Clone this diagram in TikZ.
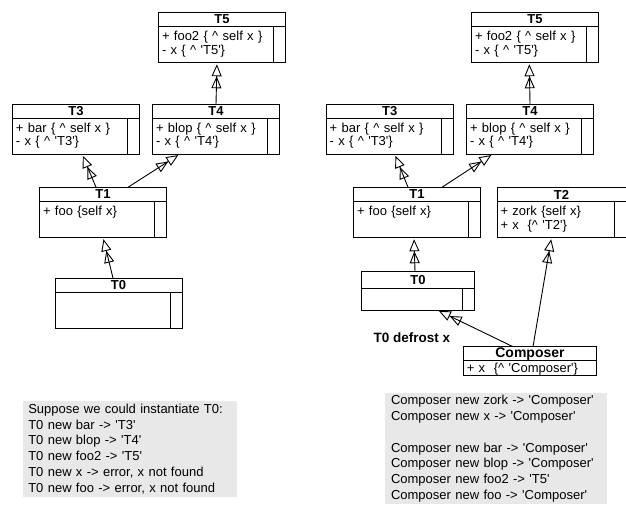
\documentclass[tikz,border=0pt]{standalone}
\usepackage{fontspec}
\setmainfont{Liberation Sans}[WordSpace=1.6]
\newfontfamily\labelfont{Liberation Sans}
\usetikzlibrary{arrows.meta,positioning}
\newcommand{\sq}{\textquotesingle}
\newcommand{\up}{\textasciicircum}

\begin{document}
\begin{tikzpicture}[x=1pt, y=-1pt, line width=0.9pt, node distance=0pt]
    \tikzstyle{classhead} = [rectangle, draw, outer sep=0pt, minimum width=127pt, minimum height=14.5pt, inner sep=0pt, font=\fontsize{13}{14}\bfseries]
    \tikzstyle{classbody} = [rectangle, draw, outer sep=0pt, text width=120pt, inner xsep=3.5pt, inner ysep=1.5pt, text height=12.5pt, text depth=20pt, align=left, font=\fontsize{13}{13.5}\selectfont,
        path picture={\draw ([xshift=-12pt]path picture bounding box.north east) -- ([xshift=-12pt]path picture bounding box.south east);}]
    \tikzstyle{inherits} = [-{Triangle[open, length=12pt, width=10pt, sep=0pt] Triangle[open, length=12pt, width=10pt]}, shorten >=2pt]
    \tikzstyle{note} = [rectangle, fill=gray!18, align=left, inner sep=0pt, font=\fontsize{13}{15.8}\selectfont]
    \useasboundingbox (0,0) rectangle (626,504);

    % left: T0 can not be instantiated
    \node (lT5) [classhead] at (222,19.5) {T5};
    \node (lT5body) [classbody, below=of lT5] {+ foo2 \{ \up{} self x \}\\- x \{ \up{} \sq T5\sq\}};
    \node (lT3) [classhead] at (76,111.2) {T3};
    \node (lT3body) [classbody, below=of lT3] {+ bar \{ \up{} self x \}\\- x \{ \up{} \sq T3\sq\}};
    \node (lT4) [classhead] at (216,111.2) {T4};
    \node (lT4body) [classbody, below=of lT4] {+ blop \{ \up{} self x \}\\- x \{ \up{} \sq T4\sq\}};
    \node (lT1) [classhead] at (103,194.5) {T1};
    \node (lT1body) [classbody, below=of lT1] {+ foo \{self x\}};
    \node (lT0) [classhead] at (118.5,285.3) {T0};
    \node (lT0body) [classbody, below=of lT0] {};

    \draw [inherits] (lT4.north) -- ([xshift=-5pt]lT5body.south);
    \draw [inherits] ([xshift=-7pt]lT1.north) -- ([xshift=6pt]lT3body.south);
    \draw [inherits] ([xshift=25pt]lT1.north) -- ([xshift=-36pt]lT4body.south);
    \draw [inherits] ([xshift=-5.5pt]lT0.north) -- (lT1body.south);

    % right: T0 frozen, x comes from T2
    \node (rT5) [classhead] at (535,19.5) {T5};
    \node (rT5body) [classbody, below=of rT5] {+ foo2 \{ \up{} self x \}\\- x \{ \up{} \sq T5\sq\}};
    \node (rT3) [classhead] at (389.7,111.2) {T3};
    \node (rT3body) [classbody, below=of rT3] {+ bar \{ \up{} self x \}\\- x \{ \up{} \sq T3\sq\}};
    \node (rT4) [classhead] at (530,111.2) {T4};
    \node (rT4body) [classbody, below=of rT4] {+ blop \{ \up{} self x \}\\- x \{ \up{} \sq T4\sq\}};
    \node (rT1) [classhead] at (417,194.5) {T1};
    \node (rT1body) [classbody, below=of rT1] {+ foo \{self x\}};
    \node (rT2) [classhead, minimum width=129pt] at (561.5,194.5) {T2};
    \node (rT2body) [classbody, text width=122pt, below=of rT2] {+ zork \{self x\}\\+ x\ \ \{\up{} \sq T2\sq\}};
    \node (rT0) [classhead, minimum width=112.6pt, minimum height=16.5pt] at (418,280) {T0};
    \node (rT0body) [classbody, text width=105.6pt, text depth=6.2pt, below=of rT0] {};
    \node (composer) [classhead, minimum width=133.4pt, minimum height=14pt, font=\fontsize{14}{14}\bfseries] at (530,353.7) {Composer};
    \node (composerbody) [classbody, text width=126.4pt, text height=10pt, text depth=2pt, path picture={}, below=of composer] {+ x\ \ \{\up{} \sq Composer\sq\}};

    \draw [inherits] (rT4.north) -- ([xshift=-5.7pt]rT5body.south);
    \draw [inherits] ([xshift=-9pt]rT1.north) -- ([xshift=5pt]rT3body.south);
    \draw [inherits] ([xshift=25pt]rT1.north) -- ([xshift=-37pt]rT4body.south);
    \draw [inherits] ([xshift=-3pt]rT0.north) -- ([xshift=-3pt]rT1body.south);
    \draw [inherits] ([xshift=-17pt]composer.north) -- ([xshift=19pt]rT0body.south);
    \draw [inherits] ([xshift=3pt]composer.north) -- ([xshift=-10pt]rT2body.south);
    \node (defrost) [font=\labelfont\fontsize{13.5}{15}\bfseries] at (412,337.3) {T0 defrost x};

    % what the messages answer
    \node (leftnote) [note, minimum width=213.4pt, minimum height=95.7pt, text width=203.4pt] at (130,448.9) {Suppose we could instantiate T0:\\T0 new bar -> \sq T3\sq\\T0 new blop -> \sq T4\sq\\T0 new foo2 -> \sq T5\sq\\T0 new x -> error, x not found\\T0 new foo -> error, x not found};
    \node (rightnote) [note, minimum width=222.3pt, minimum height=110.7pt, text width=210.3pt] at (496.2,448.7) {Composer new zork -> \sq Composer\sq\\Composer new x -> \sq Composer\sq\\[15.8pt]Composer new bar -> \sq Composer\sq\\Composer new blop -> \sq Composer\sq\\Composer new foo2 -> \sq T5\sq\\Composer new foo -> \sq Composer\sq};
\end{tikzpicture}
\end{document}
